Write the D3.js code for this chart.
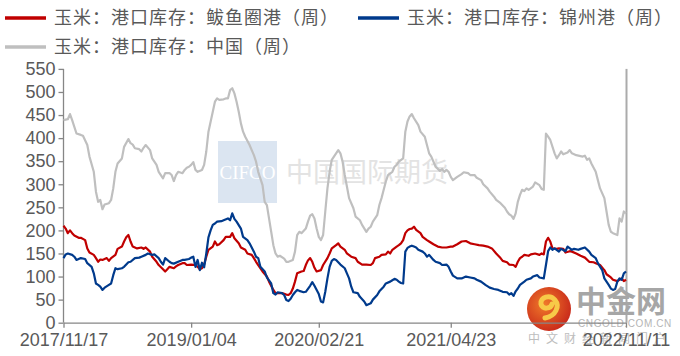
<!DOCTYPE html>
<html><head><meta charset="utf-8">
<script src="https://cdn.jsdelivr.net/npm/d3@7/dist/d3.min.js"></script>
<style>body{margin:0;background:#fff}svg{display:block}</style>
</head><body><svg id="c" width="680" height="356"></svg>
<script>
// ---- data (x = week offset from 2017/11/17, weekly data) ----
const startDate = "2017/11/17";
const endDate = "2022/11/11";
const xTickLabels = ["2017/11/17","2019/01/04","2020/02/21","2021/04/23","2022/11/11"];
const yTicks = [0,50,100,150,200,250,300,350,400,450,500,550];
const seriesNames = ["玉米：港口库存：鲅鱼圈港（周）","玉米：港口库存：锦州港（周）","玉米：港口库存：中国（周）"];

const bayuquan = [[0,210],[1,204],[2,194],[3,200],[4,194],[5,189],[7,184],[8,184],[10,179],[11,161],[12,152],[14,147],[15,140],[16,132],[17,137],[18,136],[20,140],[21,134],[22,140],[24,147],[25,160],[27,165],[28,176],[29,185],[30,190],[31,176],[32,165],[34,161],[36,163],[37,160],[38,163],[40,154],[41,143],[43,132],[44,125],[46,116],[47,111],[48,116],[49,121],[51,118],[52,122],[53,125],[55,129],[56,129],[57,125],[59,126],[61,125],[62,121],[63,116],[64,118],[65,126],[66,143],[67,158],[69,165],[70,176],[71,168],[72,170],[74,179],[75,186],[77,186],[78,194],[79,183],[81,172],[82,163],[84,158],[85,150],[87,147],[88,140],[89,132],[90,125],[92,111],[94,100],[95,89],[97,71],[98,64],[100,64],[101,64],[103,61],[104,60],[105,64],[106,74],[107,89],[108,107],[110,111],[111,112],[112,125],[113,135],[114,140],[115,132],[116,119],[117,111],[119,114],[120,125],[122,140],[123,150],[124,161],[126,168],[127,172],[128,165],[130,158],[131,150],[133,143],[135,140],[136,132],[138,126],[140,126],[142,125],[143,129],[144,140],[146,143],[147,147],[149,148],[150,154],[151,150],[152,158],[154,165],[155,168],[156,172],[157,179],[158,194],[159,200],[160,203],[161,204],[162,208],[163,201],[165,194],[166,186],[168,179],[169,176],[171,170],[173,165],[175,163],[177,163],[179,165],[180,165],[182,170],[184,176],[186,177],[188,172],[190,170],[192,168],[194,167],[196,165],[198,161],[200,150],[202,140],[203,134],[205,131],[206,126],[208,125],[209,121],[210,132],[211,140],[212,143],[213,147],[215,145],[216,148],[218,150],[220,147],[221,150],[222,148],[223,176],[224,184],[225,176],[226,161],[228,160],[229,161],[231,160],[232,152],[234,155],[235,154],[237,150],[239,145],[241,141],[243,132],[245,131],[246,129],[248,125],[250,114],[251,105],[253,98],[254,93],[256,90],[257,93],[258,96],[259,90],[260,93]];

const jinzhou = [[0,140],[1,148],[2,150],[4,147],[5,143],[6,136],[8,140],[10,138],[11,129],[13,121],[14,107],[15,85],[16,82],[17,78],[18,71],[19,76],[21,82],[22,85],[23,103],[24,118],[25,116],[27,118],[28,121],[30,131],[31,132],[33,140],[35,141],[36,143],[38,147],[39,150],[41,147],[42,148],[44,140],[45,132],[46,126],[47,140],[49,132],[50,129],[51,128],[53,132],[55,136],[56,136],[58,138],[59,141],[60,143],[61,121],[62,136],[63,114],[64,130],[65,120],[66,150],[67,185],[68,200],[69,212],[70,215],[71,219],[73,220],[74,222],[76,226],[77,222],[78,237],[79,225],[80,219],[82,204],[83,186],[85,179],[86,172],[88,154],[89,143],[90,140],[91,121],[93,111],[94,98],[96,85],[97,64],[98,61],[99,66],[101,64],[102,60],[103,49],[104,47],[105,52],[106,60],[107,66],[108,71],[109,69],[111,66],[112,67],[114,80],[115,88],[116,80],[118,62],[119,46],[120,44],[121,67],[122,96],[123,121],[124,134],[125,138],[126,136],[127,131],[128,126],[130,118],[131,107],[132,96],[133,78],[134,66],[136,64],[137,56],[139,46],[140,38],[142,42],[143,50],[145,60],[146,68],[148,78],[149,85],[151,89],[152,92],[153,95],[154,93],[155,89],[156,86],[157,85],[158,154],[159,162],[160,165],[161,167],[162,165],[163,163],[164,158],[166,154],[167,150],[168,143],[169,147],[171,136],[172,132],[174,129],[175,125],[177,126],[178,121],[179,111],[180,102],[182,96],[184,96],[186,100],[188,98],[190,96],[191,93],[193,89],[195,82],[197,76],[199,73],[201,71],[203,67],[205,66],[206,61],[207,64],[208,58],[209,68],[210,74],[211,82],[213,89],[214,93],[216,96],[217,100],[219,103],[220,98],[222,96],[223,125],[224,155],[225,163],[226,158],[227,161],[229,154],[230,160],[232,155],[233,165],[235,158],[236,160],[238,158],[239,160],[241,163],[243,154],[244,147],[246,140],[247,129],[249,114],[250,96],[252,82],[253,74],[254,71],[255,73],[256,89],[257,96],[258,93],[259,107],[260,111]];

const china = [[0,439],[2,441],[3,452],[4,439],[6,410],[8,407],[9,405],[11,385],[12,360],[14,327],[15,284],[16,262],[17,266],[18,246],[19,256],[21,259],[22,266],[23,291],[24,327],[25,345],[27,356],[28,381],[30,398],[31,389],[32,386],[33,378],[35,376],[36,371],[37,379],[38,385],[40,374],[41,356],[43,342],[44,327],[46,313],[47,324],[49,324],[50,320],[51,307],[52,320],[53,327],[55,324],[56,331],[57,336],[58,338],[59,342],[60,348],[61,331],[62,327],[64,331],[65,342],[66,371],[67,414],[69,457],[70,479],[71,486],[72,483],[74,484],[75,486],[76,486],[77,504],[78,508],[79,497],[80,479],[81,457],[82,432],[83,414],[84,403],[86,385],[87,374],[88,363],[89,349],[90,327],[92,298],[93,262],[94,255],[95,226],[96,197],[97,168],[98,150],[99,143],[100,145],[102,139],[103,132],[104,132],[106,136],[107,154],[108,190],[109,197],[110,194],[112,204],[113,219],[114,232],[115,235],[116,226],[117,204],[118,186],[119,179],[120,190],[121,241],[122,291],[123,327],[124,353],[126,367],[127,374],[128,367],[129,349],[130,320],[131,295],[132,270],[134,248],[135,230],[137,222],[138,212],[140,197],[141,204],[142,208],[143,219],[145,233],[146,255],[147,270],[148,288],[149,306],[150,320],[152,327],[153,338],[154,342],[155,349],[157,356],[158,414],[159,436],[160,447],[161,452],[162,443],[164,428],[165,414],[167,403],[168,385],[169,367],[170,360],[171,349],[172,338],[174,329],[175,333],[176,327],[177,331],[178,327],[179,316],[180,309],[182,316],[184,322],[185,326],[187,324],[188,320],[190,320],[191,314],[193,309],[194,300],[196,291],[197,284],[199,273],[200,266],[202,259],[204,249],[205,241],[206,235],[207,232],[208,225],[209,237],[210,262],[211,277],[212,288],[213,285],[214,291],[215,288],[217,295],[218,304],[220,298],[221,290],[222,288],[223,410],[224,403],[225,396],[227,367],[228,356],[229,363],[230,371],[231,365],[233,369],[234,374],[235,367],[237,363],[238,362],[240,360],[241,362],[242,353],[243,356],[244,345],[246,327],[247,309],[248,291],[250,270],[251,241],[252,212],[253,197],[254,194],[256,190],[257,226],[258,219],[259,241],[260,237]];

// ---- drawing ----
const svg = d3.select("#c");
const parse = d3.timeParse("%Y/%m/%d");
const fmt = d3.timeFormat("%Y/%m/%d");
const t0 = parse(startDate);
const toDate = w => d3.timeDay.offset(t0, w * 7);

const x = d3.scaleTime().domain([t0, parse(endDate)]).range([63.5, 626]);
const y = d3.scaleLinear().domain([0, 550]).range([322.7, 68.9]);

const txtColor = "#595959";
const numFont = "'Liberation Sans', Arial, sans-serif";
const cjkFont = "'Noto Sans CJK SC', 'Noto Sans', sans-serif";

// watermark CIFCO
const wm = svg.append("g");
wm.append("rect").attr("x", 218).attr("y", 141).attr("width", 59).attr("height", 62).attr("fill", "#dbe5f1");
wm.append("text").attr("x", 247.5).attr("y", 179).attr("text-anchor", "middle")
  .attr("font-family", "'Liberation Serif', serif").attr("font-size", 19).attr("fill", "#fff").text("CIFCO");
wm.append("text").attr("x", 286).attr("y", 182).attr("font-family", cjkFont).attr("font-size", 27)
  .attr("fill", "#e3e3e3").text("中国国际期货");

// axes
const yAxis = svg.append("g").attr("transform", "translate(63.5,0)")
  .call(d3.axisLeft(y).tickValues(yTicks).tickSize(5).tickPadding(3).tickFormat(d3.format("d")));
const xAxis = svg.append("g").attr("transform", "translate(0,322.7)")
  .call(d3.axisBottom(x).tickValues(xTickLabels.map(parse)).tickSize(5).tickPadding(6).tickFormat(fmt).tickSizeOuter(0));
[yAxis, xAxis].forEach(a => {
  a.select(".domain").attr("stroke", "#868686").attr("stroke-width", 1.3);
  a.selectAll(".tick line").attr("stroke", "#868686").attr("stroke-width", 1.3);
  a.selectAll("text").attr("fill", txtColor).attr("font-family", numFont).attr("font-size", 18);
});
yAxis.select(".domain").attr("d", `M0,${y(550)}V${y(0)}`);

// right boundary line
svg.append("line").attr("x1", x(parse(endDate)) + 0.5).attr("x2", x(parse(endDate)) + 0.5)
  .attr("y1", y(550)).attr("y2", y(0)).attr("stroke", "#ababab").attr("stroke-width", 2);

// lines
const line = d3.line().x(d => x(toDate(d[0]))).y(d => y(d[1]));
const series = [
  {data: china, color: "#bfbfbf"},
  {data: bayuquan, color: "#c00000"},
  {data: jinzhou, color: "#003a8c"}
];
series.forEach(s => {
  svg.append("path").datum(s.data).attr("d", line).attr("fill", "none")
    .attr("stroke", s.color).attr("stroke-width", 2.2).attr("stroke-linejoin", "round");
});

// legend
const legend = [
  {name: seriesNames[0], color: "#c00000", lx: 5, ly: 18},
  {name: seriesNames[1], color: "#003a8c", lx: 358, ly: 18},
  {name: seriesNames[2], color: "#bfbfbf", lx: 5, ly: 47}
];
legend.forEach(l => {
  svg.append("line").attr("x1", l.lx).attr("x2", l.lx + 41).attr("y1", l.ly).attr("y2", l.ly)
    .attr("stroke", l.color).attr("stroke-width", 3.5);
  svg.append("text").attr("x", l.lx + 49).attr("y", l.ly).attr("dy", "0.36em")
    .attr("font-family", cjkFont).attr("font-size", 18).attr("letter-spacing", 1)
    .attr("fill", txtColor).text(l.name);
});

// 中金网 logo watermark
const logo = svg.append("g");
const grad = svg.append("defs").append("radialGradient").attr("id", "lg").attr("cx", "40%").attr("cy", "40%").attr("r", "65%");
grad.append("stop").attr("offset", "0%").attr("stop-color", "#f07a2a");
grad.append("stop").attr("offset", "100%").attr("stop-color", "#c8281a");
logo.append("circle").attr("cx", 549).attr("cy", 309).attr("r", 22).attr("fill", "url(#lg)");
logo.append("path").attr("d", "M545,318 C556,316 560,306 555,300 C550,294 540,297 541,304 C542,310 551,309 552,304")
  .attr("fill", "none").attr("stroke", "#f7c948").attr("stroke-width", 5).attr("stroke-linecap", "round");
logo.append("text").attr("x", 576).attr("y", 312).attr("font-family", cjkFont).attr("font-weight", "bold")
  .attr("font-size", 30).attr("fill", "#a6a6a6").text("中金网");
logo.append("text").attr("x", 578).attr("y", 327).attr("font-family", numFont)
  .attr("font-size", 10).attr("letter-spacing", 0.6).attr("fill", "#b5b5b5").text("CNGOLD.COM.CN");
logo.append("text").attr("x", 528).attr("y", 343).attr("font-family", cjkFont)
  .attr("font-size", 12).attr("letter-spacing", 6).attr("fill", "#bdbdbd").text("中文财经新闻门户");
xAxis.raise();
</script></body></html>
